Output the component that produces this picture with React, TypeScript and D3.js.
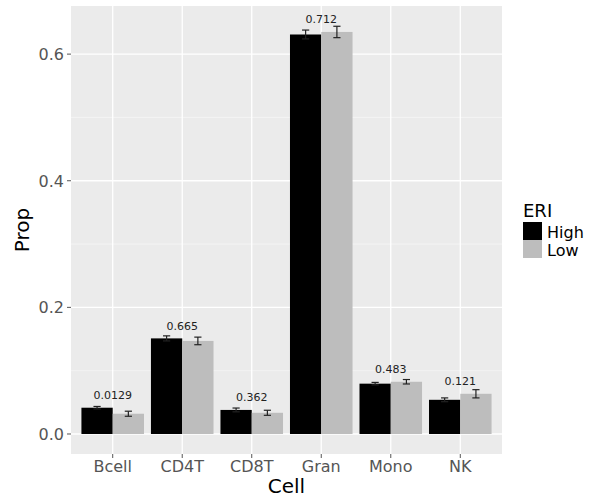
import React from "react";
import * as d3 from "d3";

const categories = ["Bcell", "CD4T", "CD8T", "Gran", "Mono", "NK"];
const groups = ["High", "Low"];
const highMean = [0.0415, 0.151, 0.038, 0.631, 0.0795, 0.054];
const highSe = [0.002, 0.004, 0.003, 0.007, 0.002, 0.003];
const lowMean = [0.032, 0.147, 0.0335, 0.635, 0.0825, 0.0635];
const lowSe = [0.004, 0.006, 0.004, 0.009, 0.0035, 0.0065];
const pLabels = ["0.0129", "0.665", "0.362", "0.712", "0.483", "0.121"];
const yTicks = [0, 0.2, 0.4, 0.6];
const yMinor = [0.1, 0.3, 0.5];

const colors: Record<string, string> = { High: "#000000", Low: "#bdbdbd" };
const font = "'DejaVu Sans', sans-serif";

const width = 607;
const height = 502;
const panel = { left: 71, right: 502, top: 6, bottom: 454 };

export default function App() {
  const x = d3
    .scaleBand()
    .domain(categories)
    .range([panel.left, panel.right])
    .paddingInner(0.1)
    .paddingOuter(0.15);
  const xs = d3.scaleBand().domain(groups).range([0, x.bandwidth()]);
  const y = d3.scaleLinear().domain([-0.0316, 0.676]).range([panel.bottom, panel.top]);

  const rows = categories.flatMap((c, i) => [
    { cat: c, grp: "High", mean: highMean[i], se: highSe[i] },
    { cat: c, grp: "Low", mean: lowMean[i], se: lowSe[i] },
  ]);
  const capW = xs.bandwidth() * 0.23;

  return (
    <svg
      width={width}
      height={height}
      style={{ position: "absolute", left: 0, top: 0, background: "#fff" }}
      fontFamily={font}
    >
      <rect
        x={panel.left}
        y={panel.top}
        width={panel.right - panel.left}
        height={panel.bottom - panel.top}
        fill="#ebebeb"
      />
      {yMinor.map((t) => (
        <line key={"m" + t} x1={panel.left} x2={panel.right} y1={y(t)} y2={y(t)} stroke="#f5f5f5" strokeWidth={0.8} />
      ))}
      {yTicks.map((t) => (
        <line key={"g" + t} x1={panel.left} x2={panel.right} y1={y(t)} y2={y(t)} stroke="#fff" strokeWidth={1.3} />
      ))}
      {categories.map((c) => {
        const cx = x(c)! + x.bandwidth() / 2;
        return <line key={"v" + c} x1={cx} x2={cx} y1={panel.top} y2={panel.bottom} stroke="#fff" strokeWidth={1.3} />;
      })}

      {rows.map((r) => {
        const bx = x(r.cat)! + xs(r.grp)!;
        return (
          <rect
            key={r.cat + r.grp}
            x={bx}
            y={y(r.mean)}
            width={xs.bandwidth()}
            height={y(0) - y(r.mean)}
            fill={colors[r.grp]}
          />
        );
      })}
      {rows.map((r) => {
        const cx = x(r.cat)! + xs(r.grp)! + xs.bandwidth() / 2;
        const y1 = y(r.mean + r.se);
        const y2 = y(r.mean - r.se);
        return (
          <g key={"e" + r.cat + r.grp} stroke="#222" strokeWidth={1.2}>
            <line x1={cx} x2={cx} y1={y1} y2={y2} />
            <line x1={cx - capW / 2} x2={cx + capW / 2} y1={y1} y2={y1} />
            <line x1={cx - capW / 2} x2={cx + capW / 2} y1={y2} y2={y2} />
          </g>
        );
      })}
      {categories.map((c, i) => (
        <text
          key={"p" + c}
          x={x(c)! + x.bandwidth() / 2}
          y={y(Math.max(highMean[i], lowMean[i]) + 0.02)}
          dy="0.35em"
          textAnchor="middle"
          fontSize={11}
          fill="#222"
        >
          {pLabels[i]}
        </text>
      ))}

      {/* y axis */}
      {yTicks.map((t) => (
        <g key={"yt" + t}>
          <line x1={panel.left - 4} x2={panel.left} y1={y(t)} y2={y(t)} stroke="#555" strokeWidth={1} />
          <text x={panel.left - 7} y={y(t)} dy="0.36em" textAnchor="end" fontSize={16} fill="#555">
            {d3.format(".1f")(t)}
          </text>
        </g>
      ))}
      {/* x axis */}
      {categories.map((c) => {
        const cx = x(c)! + x.bandwidth() / 2;
        return (
          <g key={"xt" + c}>
            <line x1={cx} x2={cx} y1={panel.bottom} y2={panel.bottom + 4} stroke="#555" strokeWidth={1} />
            <text x={cx} y={471.5} textAnchor="middle" fontSize={16} fill="#555">
              {c}
            </text>
          </g>
        );
      })}
      <text x={(panel.left + panel.right) / 2} y={493} textAnchor="middle" fontSize={20} fill="#000">
        Cell
      </text>
      <text
        transform={`translate(29,${(panel.top + panel.bottom) / 2}) rotate(-90)`}
        textAnchor="middle"
        fontSize={20}
        fill="#000"
      >
        Prop
      </text>

      {/* legend */}
      <text x={523} y={216.5} fontSize={18} fill="#000">
        ERI
      </text>
      {groups.map((g, i) => (
        <g key={"lg" + g}>
          <rect x={523} y={222 + i * 18} width={19} height={18} fill={colors[g]} />
          <text x={547} y={237.5 + i * 18} fontSize={16} fill="#000">
            {g}
          </text>
        </g>
      ))}
    </svg>
  );
}
